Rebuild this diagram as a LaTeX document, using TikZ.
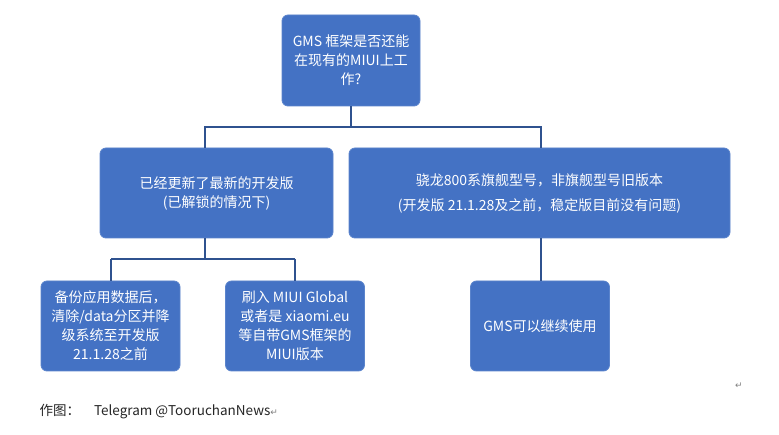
\documentclass[tikz,border=0pt]{standalone}
\usepackage{fontspec}
\setmainfont{Noto Sans CJK SC}
\newfontfamily\dvs{DejaVu Sans}
\definecolor{boxfill}{HTML}{4472C4}
\definecolor{boxline}{HTML}{5B84CC}
\definecolor{conn}{HTML}{2F528F}
\begin{document}
\begin{tikzpicture}[x=1pt,y=-1pt,
  box/.style={draw=boxline,line width=0.8pt,fill=boxfill,rounded corners=6pt,text=white,align=center,font=\fontsize{14}{19}\selectfont,inner sep=2pt},
  conn/.style={draw=conn,line width=1.5pt}]
\useasboundingbox[fill=white] (0,0) rectangle (779,435);
\node[box,minimum width=138pt,minimum height=91pt] (root) at (351,60.5) {GMS 框架是否还能\\在现有的MIUI上工\\作?};
\node[box,minimum width=233pt,minimum height=90pt] (lm) at (216.5,193) {已经更新了最新的开发版\\(已解锁的情况下)};
\node[box,minimum width=381pt,minimum height=90pt,font=\fontsize{14}{25}\selectfont] (rm) at (539.5,193) {骁龙800系旗舰型号，非旗舰型号旧版本\\(开发版 21.1.28及之前，稳定版目前没有问题)};
\node[box,minimum width=139pt,minimum height=90pt] (b1) at (110.5,326) {备份应用数据后，\\清除/data分区并降\\级系统至开发版\\21.1.28之前};
\node[box,minimum width=139pt,minimum height=90pt] (b2) at (295,326) {刷入 MIUI Global\\或者是 xiaomi.eu\\等自带GMS框架的\\MIUI版本};
\node[box,minimum width=139pt,minimum height=90pt] (b3) at (540,326) {GMS可以继续使用};
\coordinate (j1) at (351,127);
\coordinate (j2) at (205,259);
\draw[conn] (root.south) -- (j1);
\draw[conn] (j1) -- (205,127) -- (205,148);
\draw[conn] (j1) -- (541,127) -- (541,148);
\draw[conn] (205,238) -- (j2);
\draw[conn] (111,259) -- (295,259);
\draw[conn] (111,259) -- (111,281);
\draw[conn] (295,259) -- (295,281);
\draw[conn] (541,238) -- (541,281);
\node[anchor=west,font=\fontsize{13.5}{15}\selectfont,text=black!85] (cap) at (36,412) {作图：\hspace{14pt}Telegram @TooruchanNews{\dvs\fontsize{9}{9}\selectfont\color{black!50}↵}};
\node[font=\dvs\fontsize{9}{9}\selectfont,text=black!50] (mark) at (739,386) {↵};
\end{tikzpicture}
\end{document}
